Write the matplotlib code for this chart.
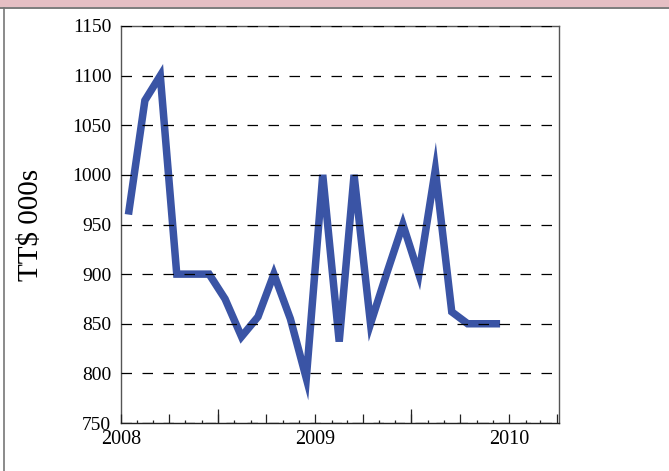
import matplotlib
matplotlib.use("Agg")
import matplotlib.pyplot as plt
import matplotlib.dates as mdates
from matplotlib.lines import Line2D
from matplotlib.patches import Rectangle
import pandas as pd

# monthly values, TT$ 000s (plotted mid-month)
months = pd.date_range("2008-01-01", periods=24, freq="MS") + pd.Timedelta(days=14)
values = [960, 1075, 1100, 900, 900, 900, 875, 837, 857, 900, 855, 795,
          1000, 832, 1000, 850, 900, 950, 900, 1005, 862, 850, 850, 850]
y_ticks = [750, 800, 850, 900, 950, 1000, 1050, 1100, 1150]
y_label = "TT$ 000s"

line_color = "#3a54a5"
plt.rcParams["font.family"] = ["Liberation Serif", "DejaVu Serif"]

fig = plt.figure(figsize=(6.69, 4.71), dpi=100)
ax = fig.add_axes([121 / 669, 1 - 423 / 471, 438 / 669, 397 / 471])

ax.plot(months, values, color=line_color, lw=5.4,
        solid_joinstyle="miter", solid_capstyle="butt", zorder=2)

ax.set_ylim(750, 1150)
ax.set_xlim(pd.Timestamp("2008-01-01"), pd.Timestamp("2010-04-05"))
ax.set_yticks(y_ticks)

# grid on top of the line, like the original
ax.set_axisbelow(False)
ax.yaxis.grid(True, color="black", lw=0.9, dashes=(8.4, 8.4))
ax.xaxis.grid(False)

ax.xaxis.set_major_locator(mdates.MonthLocator(bymonth=[1, 4, 7, 10]))
ax.xaxis.set_major_formatter(
    plt.FuncFormatter(lambda v, p: str(mdates.num2date(v).year)
                      if mdates.num2date(v).month == 1 else ""))
ax.xaxis.set_minor_locator(mdates.MonthLocator())
ax.tick_params(axis="x", which="major", direction="in", length=6.5, width=0.9,
               color="#222222", labelsize=14.5, pad=5)
ax.tick_params(axis="x", which="minor", direction="in", length=2.5, width=0.9,
               color="#222222")
ax.tick_params(axis="y", length=0, labelsize=14, pad=7)

# longer ticks at mid-year
sec = ax.secondary_xaxis("bottom")
sec.xaxis.set_major_locator(mdates.MonthLocator(bymonth=[7]))
sec.xaxis.set_major_formatter(plt.NullFormatter())
sec.tick_params(direction="in", length=10, width=0.9, color="#222222")
sec.spines["bottom"].set_visible(False)

for s in ax.spines.values():
    s.set_color("#555555")
    s.set_linewidth(1.0)
ax.spines["bottom"].set_color("#222222")

ax.set_ylabel(y_label, fontsize=21, va="center", rotation_mode="anchor")
ax.yaxis.set_label_coords((31 - 121) / 438, 0.5)

# frame of the surrounding page
fig.patches.append(Rectangle((0, 1 - 7 / 471), 1, 7 / 471, transform=fig.transFigure,
                             facecolor="#e5bfc4", edgecolor="none"))
fig.lines.append(Line2D([0, 1], [1 - 7.5 / 471] * 2, transform=fig.transFigure,
                        color="#666666", lw=1.2))
fig.lines.append(Line2D([4 / 669] * 2, [0, 1 - 7.5 / 471], transform=fig.transFigure,
                        color="#777777", lw=1.2))

fig.savefig("out.png", dpi=100)
